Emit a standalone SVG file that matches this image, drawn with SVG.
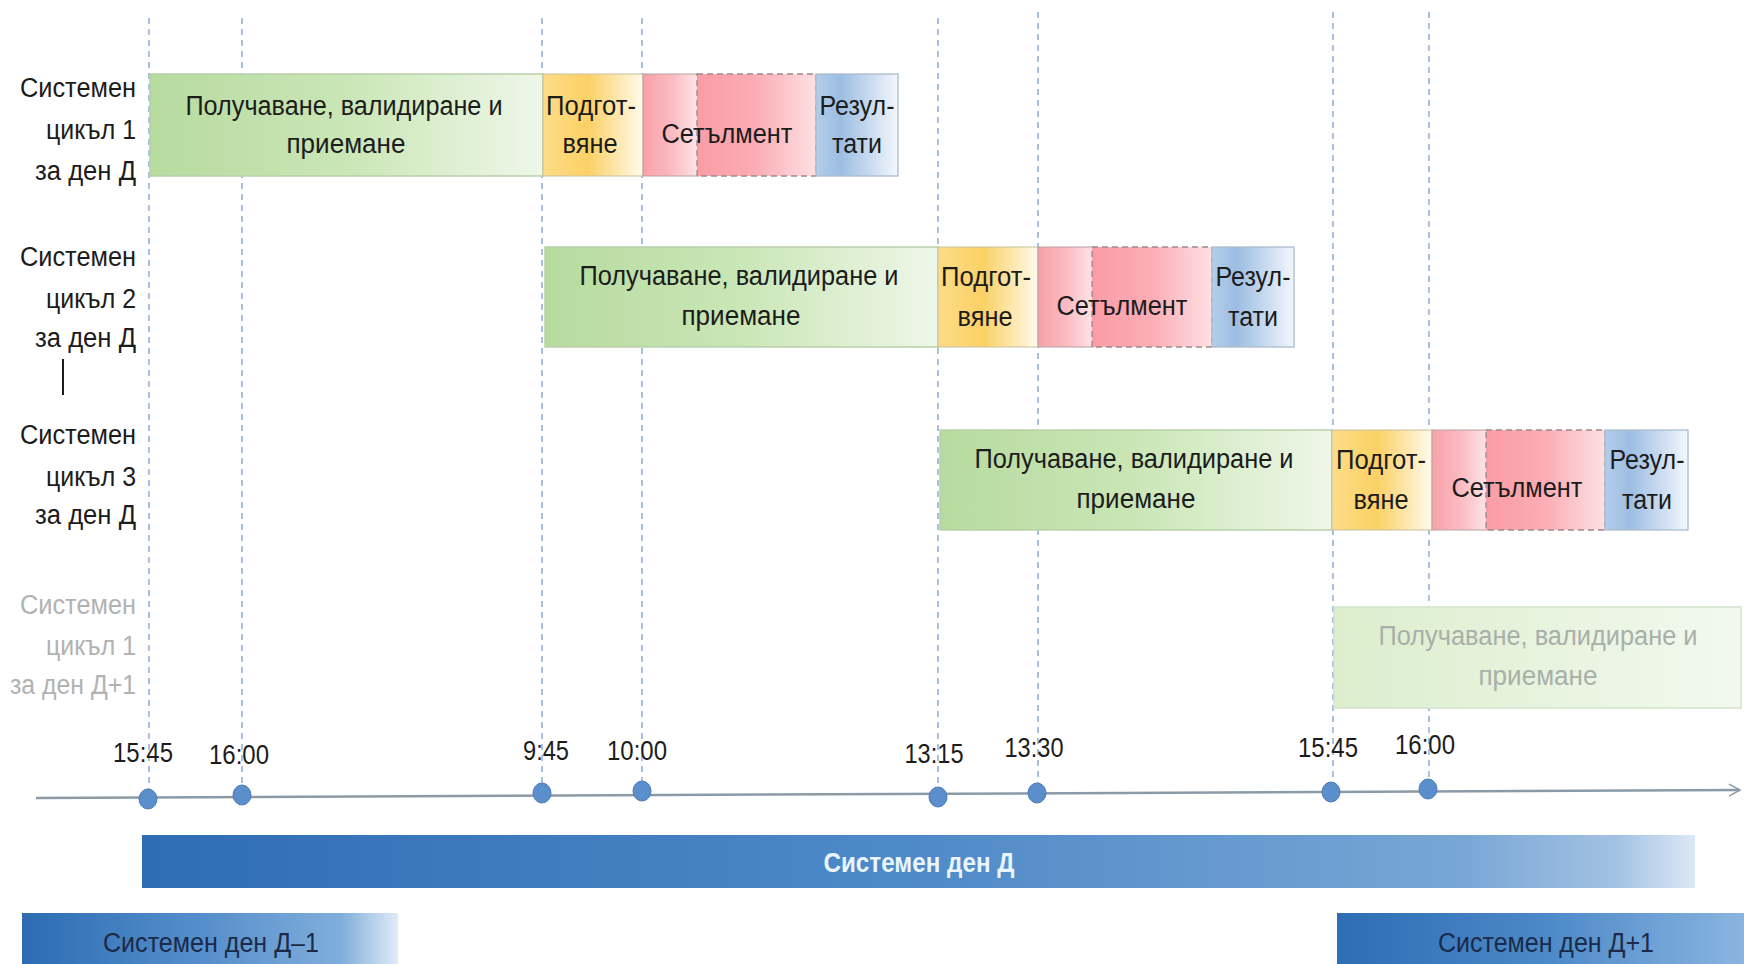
<svg xmlns="http://www.w3.org/2000/svg" width="1744" height="964" viewBox="0 0 1744 964">
<style>
text{font-family:"Liberation Sans","Noto Sans",sans-serif;}
.t{font-size:27px;fill:#1c1c1c;text-anchor:middle;}
.lb{font-size:27px;fill:#1c1c1c;text-anchor:end;}
.lbg{font-size:27px;fill:#b2b2b2;text-anchor:end;}
.tg{font-size:27px;fill:#a9afa9;text-anchor:middle;}
.tm{font-size:27px;fill:#1c1c1c;text-anchor:middle;}
.day{font-size:27px;fill:#1b2a48;text-anchor:middle;}
.dayw{font-size:28px;font-weight:bold;fill:#e9f6ff;text-anchor:middle;}
.grn{fill:url(#gGreen);stroke:#b9cfaa;stroke-width:1.5;}
.grnf{fill:url(#gGreenF);stroke:#d3e3cb;stroke-width:1.5;}
.yel{fill:url(#gYellow);stroke:#c8c0a0;stroke-width:1;}
.red1{fill:url(#gRed1);stroke:#b8a0a4;stroke-width:1;}
.red2{fill:url(#gRed2);stroke:#9a8a8e;stroke-width:1.3;stroke-dasharray:6 4;}
.blu{fill:url(#gBlue);stroke:#adbccd;stroke-width:1.3;}
.dash{stroke:#8cafd3;stroke-width:1.5;stroke-dasharray:6 5;fill:none;}
.dot{fill:#5a8fcc;stroke:#4a7cb8;stroke-width:1;}
</style>
<defs>
<linearGradient id="gGreen" x1="0" y1="0" x2="1" y2="0">
<stop offset="0" stop-color="#b6db9f"/><stop offset="0.5" stop-color="#cae6b6"/><stop offset="1" stop-color="#eef7e9"/>
</linearGradient>
<linearGradient id="gGreenF" x1="0" y1="0" x2="1" y2="0">
<stop offset="0" stop-color="#dbeecd"/><stop offset="1" stop-color="#f2f9ee"/>
</linearGradient>
<linearGradient id="gYellow" x1="0" y1="0" x2="1" y2="0">
<stop offset="0" stop-color="#fddc88"/><stop offset="0.45" stop-color="#fbd166"/><stop offset="1" stop-color="#fffaea"/>
</linearGradient>
<linearGradient id="gRed1" x1="0" y1="0" x2="1" y2="0">
<stop offset="0" stop-color="#f8a0aa"/><stop offset="0.5" stop-color="#fbbac1"/><stop offset="1" stop-color="#fde6e8"/>
</linearGradient>
<linearGradient id="gRed2" x1="0" y1="0" x2="1" y2="0">
<stop offset="0" stop-color="#fa9ca6"/><stop offset="0.5" stop-color="#fbadb5"/><stop offset="1" stop-color="#fde0e3"/>
</linearGradient>
<linearGradient id="gBlue" x1="0" y1="0" x2="1" y2="0">
<stop offset="0" stop-color="#b3cdea"/><stop offset="0.3" stop-color="#9cbde2"/><stop offset="1" stop-color="#f3f7fc"/>
</linearGradient>
<linearGradient id="gDayD" x1="0" y1="0" x2="1" y2="0">
<stop offset="0" stop-color="#2e6cb4"/><stop offset="0.5" stop-color="#4f8ac8"/><stop offset="0.85" stop-color="#78a6d5"/><stop offset="0.95" stop-color="#a3c2e3"/><stop offset="1" stop-color="#dce8f5"/>
</linearGradient>
<linearGradient id="gDayM" x1="0" y1="0" x2="1" y2="0">
<stop offset="0" stop-color="#2d6cb3"/><stop offset="0.5" stop-color="#5790cc"/><stop offset="0.85" stop-color="#80aedb"/><stop offset="1" stop-color="#e0ebf6"/>
</linearGradient>
<linearGradient id="gDayP" x1="0" y1="0" x2="1" y2="0">
<stop offset="0" stop-color="#2f6db4"/><stop offset="0.5" stop-color="#4a88c8"/><stop offset="1" stop-color="#8bb5df"/>
</linearGradient>
<marker id="arr" markerWidth="14" markerHeight="14" refX="12" refY="7" orient="auto" markerUnits="userSpaceOnUse">
<path d="M1,1 L12,7 L1,13" fill="none" stroke="#8c9aa6" stroke-width="1.5"/>
</marker>
</defs>
<rect width="1744" height="964" fill="#ffffff"/>

<g id="connectors">
<line class="dash" x1="149" y1="18" x2="149" y2="799"/>
<line class="dash" x1="242" y1="18" x2="242" y2="795"/>
<line class="dash" x1="542" y1="18" x2="542" y2="793"/>
<line class="dash" x1="642" y1="18" x2="642" y2="791"/>
<line class="dash" x1="938" y1="18" x2="938" y2="797"/>
<line class="dash" x1="1038" y1="12" x2="1038" y2="793"/>
<line class="dash" x1="1333" y1="12" x2="1333" y2="792"/>
<line class="dash" x1="1429" y1="12" x2="1429" y2="789"/>
<path d="M36,798 L1740,790" fill="none" stroke="#8c9aa6" stroke-width="2.5" marker-end="url(#arr)"/>
</g>

<g id="labels">
<text class="lb" x="136" y="97" textLength="116" lengthAdjust="spacingAndGlyphs">Системен</text>
<text class="lb" x="136" y="139" textLength="90" lengthAdjust="spacingAndGlyphs">цикъл 1</text>
<text class="lb" x="136" y="180" textLength="101" lengthAdjust="spacingAndGlyphs">за ден Д</text>
<text class="lb" x="136" y="266" textLength="116" lengthAdjust="spacingAndGlyphs">Системен</text>
<text class="lb" x="136" y="308" textLength="90" lengthAdjust="spacingAndGlyphs">цикъл 2</text>
<text class="lb" x="136" y="347" textLength="101" lengthAdjust="spacingAndGlyphs">за ден Д</text>
<line x1="63" y1="359" x2="63" y2="395" stroke="#1c1c1c" stroke-width="2"/>
<text class="lb" x="136" y="444" textLength="116" lengthAdjust="spacingAndGlyphs">Системен</text>
<text class="lb" x="136" y="486" textLength="90" lengthAdjust="spacingAndGlyphs">цикъл 3</text>
<text class="lb" x="136" y="524" textLength="101" lengthAdjust="spacingAndGlyphs">за ден Д</text>
<text class="lbg" x="136" y="614" textLength="116" lengthAdjust="spacingAndGlyphs">Системен</text>
<text class="lbg" x="136" y="655" textLength="90" lengthAdjust="spacingAndGlyphs">цикъл 1</text>
<text class="lbg" x="136" y="694" textLength="126" lengthAdjust="spacingAndGlyphs">за ден Д+1</text>
</g>

<g id="cycle1">
<rect class="grn" x="150" y="74" width="393" height="102"/>
<text class="t" x="344" y="115" textLength="317" lengthAdjust="spacingAndGlyphs">Получаване, валидиране и</text>
<text class="t" x="346" y="153" textLength="119" lengthAdjust="spacingAndGlyphs">приемане</text>
<rect class="yel" x="543" y="74" width="100" height="102"/>
<text class="t" x="591" y="115" textLength="90" lengthAdjust="spacingAndGlyphs">Подгот-</text>
<text class="t" x="590" y="153" textLength="55" lengthAdjust="spacingAndGlyphs">вяне</text>
<rect class="red1" x="643" y="74" width="56" height="102"/>
<rect class="red2" x="697" y="74" width="119" height="102"/>
<text class="t" x="727" y="143" textLength="131" lengthAdjust="spacingAndGlyphs">Сетълмент</text>
<rect class="blu" x="816" y="74" width="82" height="102"/>
<text class="t" x="857" y="115" textLength="75" lengthAdjust="spacingAndGlyphs">Резул-</text>
<text class="t" x="857" y="153" textLength="50" lengthAdjust="spacingAndGlyphs">тати</text>
</g>

<g id="cycle2">
<rect class="grn" x="545" y="247" width="393" height="100"/>
<text class="t" x="739" y="285" textLength="319" lengthAdjust="spacingAndGlyphs">Получаване, валидиране и</text>
<text class="t" x="741" y="325" textLength="119" lengthAdjust="spacingAndGlyphs">приемане</text>
<rect class="yel" x="938" y="247" width="100" height="100"/>
<text class="t" x="986" y="286" textLength="90" lengthAdjust="spacingAndGlyphs">Подгот-</text>
<text class="t" x="985" y="326" textLength="55" lengthAdjust="spacingAndGlyphs">вяне</text>
<rect class="red1" x="1038" y="247" width="56" height="100"/>
<rect class="red2" x="1092" y="247" width="120" height="100"/>
<text class="t" x="1122" y="315" textLength="131" lengthAdjust="spacingAndGlyphs">Сетълмент</text>
<rect class="blu" x="1212" y="247" width="82" height="100"/>
<text class="t" x="1253" y="286" textLength="75" lengthAdjust="spacingAndGlyphs">Резул-</text>
<text class="t" x="1253" y="326" textLength="50" lengthAdjust="spacingAndGlyphs">тати</text>
</g>

<g id="cycle3">
<rect class="grn" x="940" y="430" width="392" height="100"/>
<text class="t" x="1134" y="468" textLength="319" lengthAdjust="spacingAndGlyphs">Получаване, валидиране и</text>
<text class="t" x="1136" y="508" textLength="119" lengthAdjust="spacingAndGlyphs">приемане</text>
<rect class="yel" x="1332" y="430" width="100" height="100"/>
<text class="t" x="1381" y="469" textLength="90" lengthAdjust="spacingAndGlyphs">Подгот-</text>
<text class="t" x="1381" y="509" textLength="55" lengthAdjust="spacingAndGlyphs">вяне</text>
<rect class="red1" x="1432" y="430" width="56" height="100"/>
<rect class="red2" x="1486" y="430" width="119" height="100"/>
<text class="t" x="1517" y="497" textLength="131" lengthAdjust="spacingAndGlyphs">Сетълмент</text>
<rect class="blu" x="1605" y="430" width="83" height="100"/>
<text class="t" x="1647" y="469" textLength="75" lengthAdjust="spacingAndGlyphs">Резул-</text>
<text class="t" x="1647" y="509" textLength="50" lengthAdjust="spacingAndGlyphs">тати</text>
</g>

<g id="cycle1-next">
<rect class="grnf" x="1334" y="607" width="407" height="101"/>
<text class="tg" x="1538" y="645" textLength="319" lengthAdjust="spacingAndGlyphs">Получаване, валидиране и</text>
<text class="tg" x="1538" y="685" textLength="119" lengthAdjust="spacingAndGlyphs">приемане</text>
</g>

<g id="timepoints">
<ellipse class="dot" cx="148" cy="799" rx="9" ry="10"/>
<ellipse class="dot" cx="242" cy="795" rx="9" ry="10"/>
<ellipse class="dot" cx="542" cy="793" rx="9" ry="10"/>
<ellipse class="dot" cx="642" cy="791" rx="9" ry="10"/>
<ellipse class="dot" cx="938" cy="797" rx="9" ry="10"/>
<ellipse class="dot" cx="1037" cy="793" rx="9" ry="10"/>
<ellipse class="dot" cx="1331" cy="792" rx="9" ry="10"/>
<ellipse class="dot" cx="1428" cy="789" rx="9" ry="10"/>
<text class="tm" x="143" y="762" textLength="60" lengthAdjust="spacingAndGlyphs">15:45</text>
<text class="tm" x="239" y="764" textLength="60" lengthAdjust="spacingAndGlyphs">16:00</text>
<text class="tm" x="546" y="760" textLength="46" lengthAdjust="spacingAndGlyphs">9:45</text>
<text class="tm" x="637" y="760" textLength="60" lengthAdjust="spacingAndGlyphs">10:00</text>
<text class="tm" x="934" y="763" textLength="59" lengthAdjust="spacingAndGlyphs">13:15</text>
<text class="tm" x="1034" y="757" textLength="59" lengthAdjust="spacingAndGlyphs">13:30</text>
<text class="tm" x="1328" y="757" textLength="60" lengthAdjust="spacingAndGlyphs">15:45</text>
<text class="tm" x="1425" y="754" textLength="60" lengthAdjust="spacingAndGlyphs">16:00</text>
</g>

<g id="day-d">
<rect x="142" y="835" width="1553" height="53" fill="url(#gDayD)"/>
<text class="dayw" x="919" y="872" textLength="191" lengthAdjust="spacingAndGlyphs">Системен ден Д</text>
</g>
<g id="day-d-minus-1">
<rect x="22" y="913" width="376" height="55" fill="url(#gDayM)"/>
<text class="day" x="211" y="952" textLength="216" lengthAdjust="spacingAndGlyphs">Системен ден Д–1</text>
</g>
<g id="day-d-plus-1">
<rect x="1337" y="913" width="410" height="55" fill="url(#gDayP)"/>
<text class="day" x="1546" y="952" textLength="216" lengthAdjust="spacingAndGlyphs">Системен ден Д+1</text>
</g>
</svg>
